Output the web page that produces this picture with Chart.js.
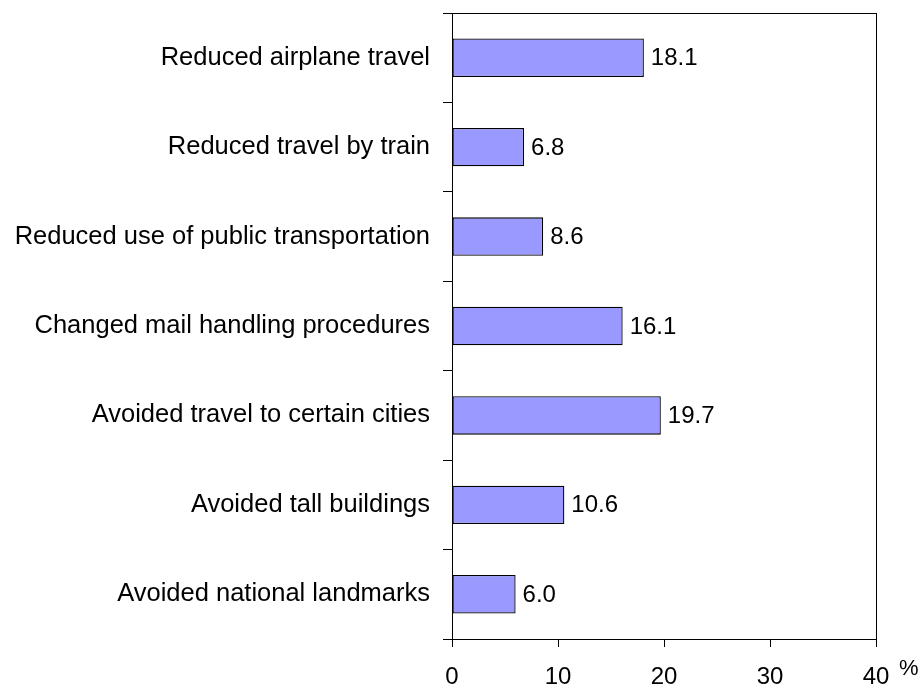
<!DOCTYPE html>
<html>
<head>
<meta charset="utf-8">
<script src="https://cdn.jsdelivr.net/npm/chart.js@4"></script>
<style>
  html, body { margin: 0; padding: 0; background: #fff; }
  #wrap { width: 921px; height: 687px; }
</style>
</head>
<body>
<div id="wrap"><canvas id="chart" width="921" height="687"></canvas></div>
<script>
// ─── Data ───────────────────────────────────────────────────────────────
const categories = [
    'Reduced airplane travel',
    'Reduced travel by train',
    'Reduced use of public transportation',
    'Changed mail handling procedures',
    'Avoided travel to certain cities',
    'Avoided tall buildings',
    'Avoided national landmarks'
];
const percentages = [18.1, 6.8, 8.6, 16.1, 19.7, 10.6, 6.0];
const xTicks = [0, 10, 20, 30, 40];

const FONT = 'Liberation Sans, Arial, sans-serif';

// box around the plot area + value labels + % unit
const frameAndLabels = {
    id: 'frameAndLabels',
    afterDatasetsDraw(chart) {
        const { ctx, chartArea: a } = chart;
        ctx.save();
        ctx.strokeStyle = '#000';
        ctx.lineWidth = 1;
        ctx.strokeRect(Math.round(a.left) + 0.5, Math.round(a.top) + 0.5,
            Math.round(a.right - a.left), Math.round(a.bottom - a.top));

        ctx.fillStyle = '#000';
        ctx.font = '24px ' + FONT;
        ctx.textAlign = 'left';
        ctx.textBaseline = 'middle';
        const meta = chart.getDatasetMeta(0);
        meta.data.forEach((bar, i) => {
            ctx.fillText(percentages[i].toFixed(1), bar.x + 7, bar.y + 1);
        });

        ctx.font = '22px ' + FONT;
        ctx.fillText('%', a.right + 23, a.bottom + 30);
        ctx.restore();
    }
};

new Chart(document.getElementById('chart'), {
    type: 'bar',
    data: {
        labels: categories,
        datasets: [{
            data: percentages,
            backgroundColor: '#9999ff',
            borderColor: '#000',
            borderWidth: 1.3,
            borderSkipped: false,
            categoryPercentage: 1,
            barPercentage: 0.43
        }]
    },
    options: {
        indexAxis: 'y',
        responsive: false,
        animation: false,
        layout: { padding: { left: 0, top: 13, right: 45, bottom: 0 } },
        plugins: { legend: { display: false }, tooltip: { enabled: false } },
        scales: {
            x: {
                min: 0,
                max: 40,
                afterBuildTicks: (s) => { s.ticks = xTicks.map(v => ({ value: v })); },
                afterFit: (s) => { s.height = 48; s.paddingLeft = 0; s.paddingRight = 0; },
                border: { color: '#000', width: 1 },
                grid: { drawOnChartArea: false, tickLength: 8, color: '#000' },
                ticks: { color: '#000', padding: 16, maxRotation: 0, font: { family: FONT, size: 24 } }
            },
            y: {
                afterFit: (s) => { s.width = 452; s.paddingTop = 0; s.paddingBottom = 0; },
                border: { color: '#000', width: 1 },
                grid: { drawOnChartArea: false, tickLength: 9, color: '#000', offset: true },
                ticks: { color: '#000', padding: 13, font: { family: FONT, size: 25.5 } }
            }
        }
    },
    plugins: [frameAndLabels]
});
</script>
</body>
</html>
